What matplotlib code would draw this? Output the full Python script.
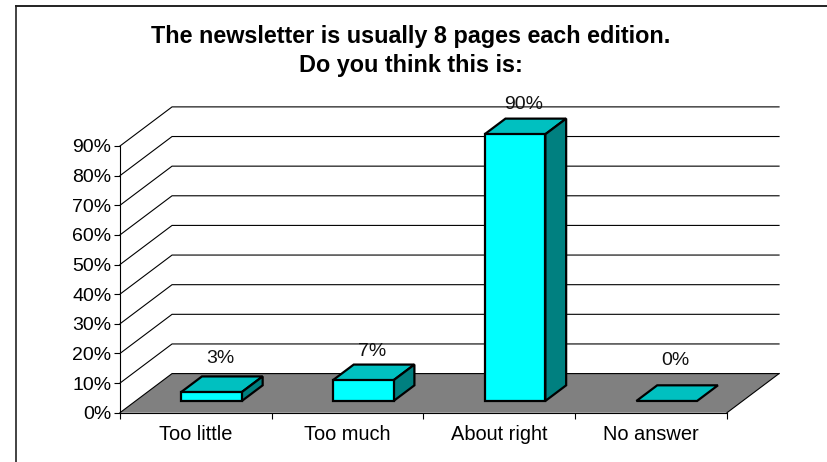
# Oblique 3D style column chart drawn on a plain 2D axes
import matplotlib
matplotlib.use('Agg')
import matplotlib.pyplot as plt
import numpy as np
from matplotlib.lines import Line2D
from matplotlib.patches import Polygon

plt.rcParams['font.family'] = ['Liberation Sans', 'DejaVu Sans']

# Data
categories = ['Too little', 'Too much', 'About right', 'No answer']
values = [3, 7, 90, 0]
value_labels = ['3%', '7%', '90%', '0%']
y_ticks = [0, 10, 20, 30, 40, 50, 60, 70, 80, 90]
title = 'The newsletter is usually 8 pages each edition.\nDo you think this is:'

# How far the full depth of the chart shifts things, in data units
depth_x = 0.343
depth_y = 13.2
bar_width = 0.4
bar_front = 0.3   # fraction of the depth
bar_back = 0.7
label_lift = [11.2, 9.6, 10.0, 13.8]  # gap above the bar front, in percent

W, H = 828, 462
fig = plt.figure(figsize=(W / 100, H / 100), dpi=100)

# Only the top and left edges of the outer frame show
fig.add_artist(Line2D([16.5 / W, 16.5 / W], [0, 1 - 6 / H], color='#222222', lw=1.2))
fig.add_artist(Line2D([16 / W, 1], [1 - 6 / H, 1 - 6 / H], color='#222222', lw=1.4))

# Axes spans the front plane of the chart
ax = fig.add_axes([120 / W, 1 - 412.7 / H, (727 - 120) / W, (412.7 - 146) / H])
ax.set_xlim(0, 4)
ax.set_ylim(0, 90)
ax.patch.set_visible(False)
for side in ['top', 'right', 'bottom']:
    ax.spines[side].set_visible(False)
ax.spines['left'].set_linewidth(0.8)


def project(x, y, d):
    # x in categories, y in percent, d is the fraction of the depth
    return (x + d * depth_x, y + d * depth_y)


# Floor
ax.add_patch(Polygon([project(0, 0, 0), project(4, 0, 0), project(4, 0, 1), project(0, 0, 1)],
                     closed=True, facecolor='#808080', edgecolor='none', clip_on=False, zorder=1))

# Wall gridlines
for t in y_ticks:
    xs, ys = zip(project(0, t, 0), project(0, t, 1), project(4, t, 1))
    ax.plot(xs, ys, color='black', lw=0.8, clip_on=False, zorder=2, solid_joinstyle='miter')

# Floor edges
xs, ys = zip(project(4, 0, 0), project(4, 0, 1))
ax.plot(xs, ys, color='black', lw=0.8, clip_on=False, zorder=2)
ax.plot([0, 4], [0, 0], color='black', lw=0.8, clip_on=False, zorder=2)

# Columns
for i, v in enumerate(values):
    x0 = i + 0.5 - bar_width / 2
    x1 = i + 0.5 + bar_width / 2
    top = [project(x0, v, bar_front), project(x1, v, bar_front),
           project(x1, v, bar_back), project(x0, v, bar_back)]
    ax.add_patch(Polygon(top, closed=True, facecolor='#00C0C0', edgecolor='black',
                         lw=1.6, joinstyle='miter', clip_on=False, zorder=3))
    if v > 0:
        front = [project(x0, 0, bar_front), project(x1, 0, bar_front),
                 project(x1, v, bar_front), project(x0, v, bar_front)]
        right = [project(x1, 0, bar_front), project(x1, 0, bar_back),
                 project(x1, v, bar_back), project(x1, v, bar_front)]
        ax.add_patch(Polygon(right, closed=True, facecolor='#008080', edgecolor='black',
                             lw=1.6, joinstyle='miter', clip_on=False, zorder=3))
        ax.add_patch(Polygon(front, closed=True, facecolor='#00FFFF', edgecolor='black',
                             lw=1.6, joinstyle='miter', clip_on=False, zorder=4))
    lx, ly = project(i + 0.5, v + label_lift[i], bar_front)
    ax.text(lx + 0.06, ly, value_labels[i], ha='center', va='center', fontsize=14,
            color='#111111', clip_on=False, zorder=5)

# Axis ticks and labels
ax.set_yticks(y_ticks)
ax.set_yticklabels([f'{t}%' for t in y_ticks])
ax.tick_params(axis='y', length=4, width=0.8, labelsize=14, pad=2.2)
ax.set_xticks(np.arange(5))
ax.set_xticklabels([])
ax.tick_params(axis='x', length=4, width=0.8)
ax.set_xticks(np.arange(4) + 0.5, minor=True)
ax.set_xticklabels(categories, minor=True)
ax.tick_params(axis='x', which='minor', length=0, labelsize=14.4, pad=9)

fig.text(411 / W, 1 - 37 / H, title.split('\n')[0], ha='center', va='center',
         fontsize=16.8, fontweight='bold')
fig.text(411 / W, 1 - 66 / H, title.split('\n')[1], ha='center', va='center',
         fontsize=16.8, fontweight='bold')

fig.savefig('out.png', dpi=100)
